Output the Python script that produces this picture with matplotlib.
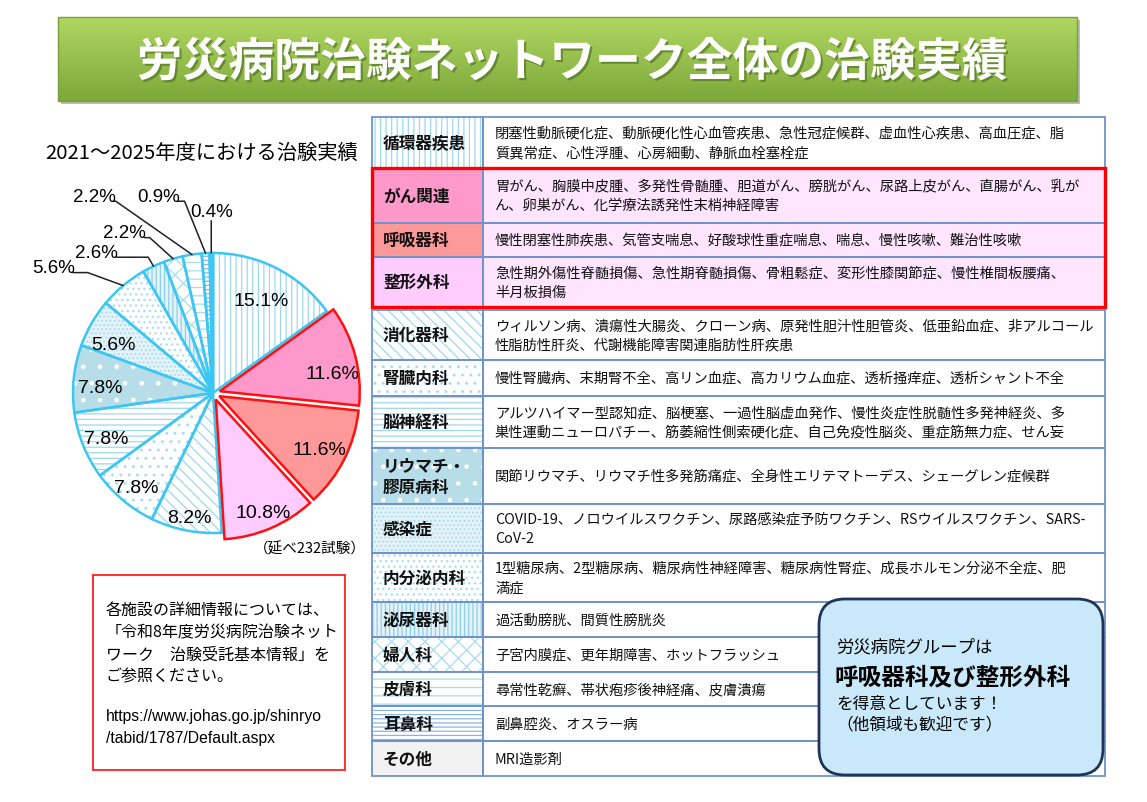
import numpy as np
import matplotlib
matplotlib.use("Agg")
import matplotlib.pyplot as plt
from matplotlib.patches import Rectangle, FancyBboxPatch
import matplotlib.patheffects as pe

plt.rcParams['font.family'] = ['Noto Sans CJK JP', 'DejaVu Sans']
plt.rcParams['hatch.linewidth'] = 0.9

# ---------------- data ----------------
categories = ["循環器疾患", "がん関連", "呼吸器科", "整形外科", "消化器科", "腎臓内科",
              "脳神経科", "リウマチ・\n膠原病科", "感染症", "内分泌内科", "泌尿器科",
              "婦人科", "皮膚科", "耳鼻科", "その他"]
shares = [15.1, 11.6, 11.6, 10.8, 8.2, 7.8, 7.8, 7.8, 5.6, 5.6, 2.6, 2.2, 2.2, 0.9, 0.4]
pct_labels = ["15.1%", "11.6%", "11.6%", "10.8%", "8.2%", "7.8%", "7.8%", "7.8%",
              "5.6%", "5.6%", "2.6%", "2.2%", "2.2%", "0.9%", "0.4%"]
featured = [False, True, True, True] + [False] * 11
diseases = [
    "閉塞性動脈硬化症、動脈硬化性心血管疾患、急性冠症候群、虚血性心疾患、高血圧症、脂\n質異常症、心性浮腫、心房細動、静脈血栓塞栓症",
    "胃がん、胸膜中皮腫、多発性骨髄腫、胆道がん、膀胱がん、尿路上皮がん、直腸がん、乳が\nん、卵巣がん、化学療法誘発性末梢神経障害",
    "慢性閉塞性肺疾患、気管支喘息、好酸球性重症喘息、喘息、慢性咳嗽、難治性咳嗽",
    "急性期外傷性脊髄損傷、急性期脊髄損傷、骨粗鬆症、変形性膝関節症、慢性椎間板腰痛、\n半月板損傷",
    "ウィルソン病、潰瘍性大腸炎、クローン病、原発性胆汁性胆管炎、低亜鉛血症、非アルコール\n性脂肪性肝炎、代謝機能障害関連脂肪性肝疾患",
    "慢性腎臓病、末期腎不全、高リン血症、高カリウム血症、透析掻痒症、透析シャント不全",
    "アルツハイマー型認知症、脳梗塞、一過性脳虚血発作、慢性炎症性脱髄性多発神経炎、多\n巣性運動ニューロパチー、筋萎縮性側索硬化症、自己免疫性脳炎、重症筋無力症、せん妄",
    "関節リウマチ、リウマチ性多発筋痛症、全身性エリテマトーデス、シェーグレン症候群",
    "COVID-19、ノロウイルスワクチン、尿路感染症予防ワクチン、RSウイルスワクチン、SARS-\nCoV-2",
    "1型糖尿病、2型糖尿病、糖尿病性神経障害、糖尿病性腎症、成長ホルモン分泌不全症、肥\n満症",
    "過活動膀胱、間質性膀胱炎",
    "子宮内膜症、更年期障害、ホットフラッシュ",
    "尋常性乾癬、帯状疱疹後神経痛、皮膚潰瘍",
    "副鼻腔炎、オスラー病",
    "MRI造影剤",
]
title = "労災病院治験ネットワーク全体の治験実績"
subtitle = "2021～2025年度における治験実績"
total_note = "（延べ232試験）"
info_lines = ["各施設の詳細情報については、", "「令和8年度労災病院治験ネット",
              "ワーク　治験受託基本情報」を", "ご参照ください。"]
url_lines = ["https://www.johas.go.jp/shinryo", "/tabid/1787/Default.aspx"]
callout_lines = ["労災病院グループは", "呼吸器科及び整形外科", "を得意としています！", "（他領域も歓迎です）"]

# ---------------- styles (per category) ----------------
LB = "#9ED8EE"
face = ["white", "#FF99CC", "#FF9999", "#FFCCFF", "white", "white", "white", "#B7DEE8",
        "#E4F3F8", "white", "#E3F3F9", "white", "white", "white", "#F2F2F2"]
hatch = ["|||", None, None, None, "\\\\\\", "..", "---", ".", "....", "...", "||||",
         "xx", "--", "----", None]
hcol = [LB, LB, LB, LB, LB, "#A9DCEF", LB, "white", "#A9DCEF", "#A9DCEF", "#8FCFE6",
        "#A9DCEF", "#A9DCEF", "#8DB3E2", LB]
pie_face = list(face)
pie_face[14] = "#8DB3E2"

W, H = 1147, 802
fig = plt.figure(figsize=(W / 100, H / 100), dpi=100)
ax = fig.add_axes([0, 0, 1, 1])
ax.set_xlim(0, W)
ax.set_ylim(H, 0)
ax.axis("off")

# ---------------- banner ----------------
bx0, bx1, by0, by1 = 58, 1077, 17, 101
ax.add_patch(Rectangle((bx0 + 3, by0 + 3), bx1 - bx0, by1 - by0, fc="#BBBBBB", ec="none", zorder=1))
grad = np.linspace(0, 1, 64)[:, None]
c_top = np.array([0.69, 0.84, 0.38])
c_bot = np.array([0.49, 0.66, 0.23])
img = (c_top[None, None, :] * (1 - grad[..., None]) + c_bot[None, None, :] * grad[..., None])
ax.imshow(img, extent=(bx0, bx1, by1, by0), origin="upper", aspect="auto", zorder=2)
ax.add_patch(Rectangle((bx0, by0), bx1 - bx0, by1 - by0, fc="none", ec="#7A9E3A", lw=1.0, zorder=3))
ax.text((bx0 + bx1) / 2 + 5, 63, title, color="white", fontsize=33, fontweight="bold",
        ha="center", va="center", zorder=4,
        path_effects=[pe.withSimplePatchShadow(offset=(1.5, -1.5), shadow_rgbFace="#4A6A20", alpha=0.6)])

# ---------------- subtitle ----------------
ax.text(45, 153, subtitle, fontsize=14.6, ha="left", va="center", color="black")
ax.text(310, 549, total_note, fontsize=10.5, ha="center", va="center", color="black")

# ---------------- table ----------------
tx0, tx1, tx2 = 372, 483, 1105
row_edges = [117, 168, 223, 257, 307, 360, 396, 448, 504, 553, 602, 637, 672, 706, 741, 776]
blue_line = "#6F93CB"
for i, cat in enumerate(categories):
    y0, y1 = row_edges[i], row_edges[i + 1]
    if i == 4:
        y0 = 310
    # label cell
    ax.add_patch(Rectangle((tx0, y0), tx1 - tx0, y1 - y0, fc=face[i], ec=hcol[i], lw=0,
                           hatch=hatch[i], zorder=2))
    # content cell
    cfc = "#FFE5FF" if featured[i] else "white"
    ax.add_patch(Rectangle((tx1, y0), tx2 - tx1, y1 - y0, fc=cfc, ec="none", zorder=2))
    ax.add_patch(Rectangle((tx0, y0), tx1 - tx0, y1 - y0, fc="none", ec=blue_line, lw=1.3, zorder=3))
    ax.add_patch(Rectangle((tx1, y0), tx2 - tx1, y1 - y0, fc="none", ec=blue_line, lw=1.3, zorder=3))
    ym = (y0 + y1) / 2
    ax.text(383, ym + 1, cat, fontsize=12, fontweight="bold", ha="left", va="center",
            linespacing=1.25, zorder=5, color="#111111")
    ax.text(495, ym + 1, diseases[i], fontsize=10.3, ha="left", va="center",
            linespacing=1.5, zorder=5, color="#111111")
# red frame around featured rows
fi = [i for i, f in enumerate(featured) if f]
ax.add_patch(Rectangle((tx0, row_edges[fi[0]]), tx2 - tx0, row_edges[fi[-1] + 1] - row_edges[fi[0]],
                       fc="none", ec="#FF0000", lw=2.4, zorder=6))

# ---------------- info box ----------------
ax.add_patch(Rectangle((93, 575), 252, 195, fc="white", ec="#FF2020", lw=1.3, zorder=2))
for k, line in enumerate(info_lines):
    ax.text(106, 611 + 22 * k, line, fontsize=11.5, ha="left", va="center", zorder=5)
for k, line in enumerate(url_lines):
    ax.text(106, 716 + 23 * k, line, fontsize=11.3, ha="left", va="center", zorder=5,
            family=["Liberation Sans", "DejaVu Sans"])

# ---------------- callout ----------------
ax.add_patch(FancyBboxPatch((819, 599), 284, 176, boxstyle="round,pad=0,rounding_size=26",
                            fc="#C9E9FA", ec="#1F3458", lw=2.0, zorder=7))
ax.text(836, 648, callout_lines[0], fontsize=12.5, ha="left", va="center", zorder=8)
ax.text(834, 677, callout_lines[1], fontsize=17, fontweight="bold", ha="left", va="center", zorder=8)
ax.text(836, 704, callout_lines[2], fontsize=12, ha="left", va="center", zorder=8)
ax.text(836, 725, callout_lines[3], fontsize=12, ha="left", va="center", zorder=8)

# ---------------- pie ----------------
cx, cy, R = 213, 393, 140
lim = 1.6
side = 2 * lim * R
pax = fig.add_axes([(cx - side / 2) / W, (H - cy - side / 2) / H, side / W, side / H])

explode = [0.05 if f else 0 for f in featured]
wedges, _ = pax.pie(shares, startangle=90, counterclock=False, explode=explode, radius=1,
                    wedgeprops=dict(linewidth=0))
for i, w in enumerate(wedges):
    w.set_facecolor(pie_face[i])
    w.set_edgecolor(hcol[i])
    w.set_linewidth(0)
    if hatch[i]:
        w.set_hatch(hatch[i])
    w.set_zorder(1)
outl, _ = pax.pie(shares, startangle=90, counterclock=False, explode=explode, radius=1,
                  wedgeprops=dict(fill=False, linewidth=1.8))
for i, w in enumerate(outl):
    if featured[i]:
        w.set_edgecolor("#FF1010")
        w.set_zorder(4)
    else:
        w.set_edgecolor("#3CC6F2")
        w.set_zorder(3)

pax.set_xlim(-lim, lim)
pax.set_ylim(-lim, lim)
pax.set_aspect("equal")
pax.axis("off")
pax.patch.set_alpha(0)

pct_font = ["Liberation Sans Narrow", "Liberation Sans", "DejaVu Sans"]
inside_r = [0.76, 0.82, 0.8, 0.86, 0.89, 0.86, 0.82, 0.81, 0.8]
inside_da = [0, -5, 0, 0, 0, 0, 0, 2, 3]
for i in range(9):
    w = wedges[i]
    a = np.deg2rad((w.theta1 + w.theta2) / 2 + inside_da[i])
    ccx, ccy = w.center
    r = inside_r[i]
    pax.text(ccx + r * np.cos(a), ccy + r * np.sin(a) - 0.025, pct_labels[i], fontsize=14,
             ha="center", va="center", family=pct_font, zorder=6)

# outside labels (text offsets from centre, in radius units) with leader lines
out_pos = [(-1.14, 0.89), (-0.83, 1.00), (-0.63, 1.14), (-0.85, 1.40), (-0.39, 1.40), (-0.01, 1.29)]
out_angleB = [160, 120, 138, 145, 112, 90]
for j, i in enumerate(range(9, 15)):
    w = wedges[i]
    a = np.deg2rad((w.theta1 + w.theta2) / 2)
    xy = (np.cos(a), np.sin(a))
    tx, ty = out_pos[j]
    pax.text(tx, ty, pct_labels[i], fontsize=13.5, ha="center", va="center",
             family=pct_font, zorder=6)
    if i == 14:
        pax.annotate("", xy=xy, xytext=(xy[0], ty - 0.06),
                     arrowprops=dict(arrowstyle="-", color="#222222", lw=1.1,
                                     shrinkA=0, shrinkB=0), zorder=5)
    else:
        start = (tx + 0.14, ty - 0.03)
        pax.annotate("", xy=xy, xytext=start,
                     arrowprops=dict(arrowstyle="-", color="#222222", lw=1.1, shrinkA=0, shrinkB=0,
                                     connectionstyle=f"angle,angleA=0,angleB={out_angleB[j]},rad=0"),
                     zorder=5)

ax.set_xlim(0, W)
ax.set_ylim(H, 0)
fig.savefig("out.png", dpi=100, facecolor="white")
